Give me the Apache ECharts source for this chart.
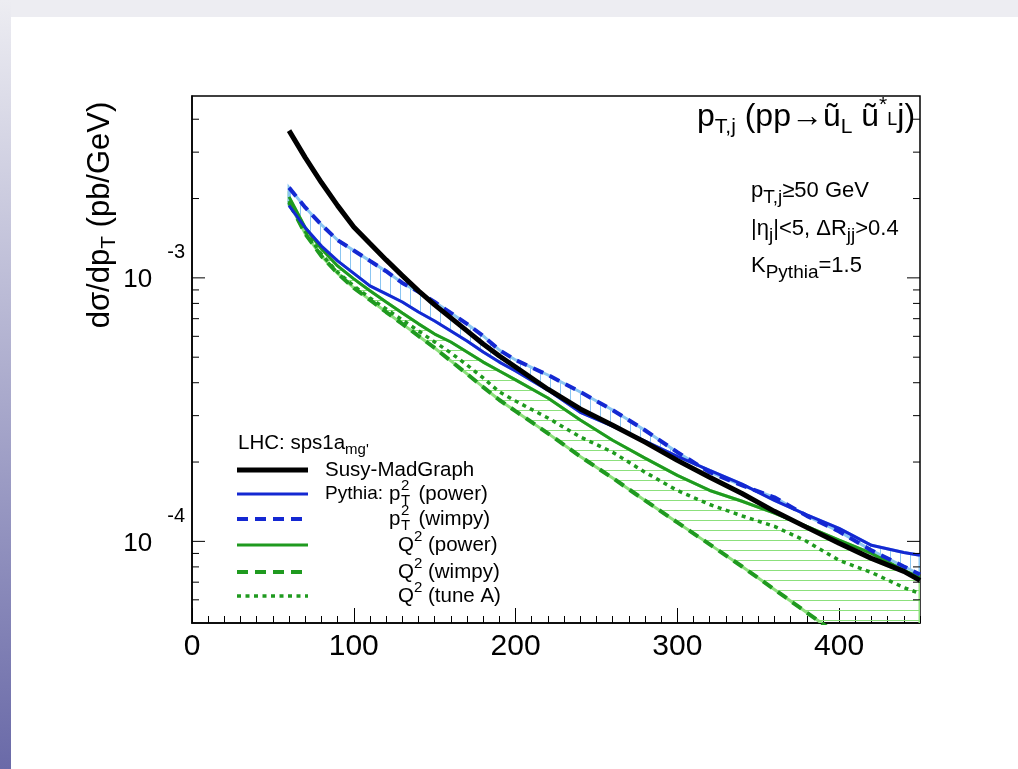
<!DOCTYPE html>
<html><head><meta charset="utf-8">
<script src="https://cdn.jsdelivr.net/npm/echarts@6/dist/echarts.min.js"></script>
<style>html,body{margin:0;padding:0;background:#fff}#c{width:1018px;height:769px}</style>
</head><body><div id="c"></div>
<script>
// ---- data (pT in GeV, dσ/dpT in pb/GeV) ----
const ptBins = [60,70,80,90,100,110,120,130,140,150,160,170,180,190,200,220,240,260,280,300,320,340,360,380,400,420,440,450];
const susyMadGraph   = [3.62e-3,2.86e-3,2.30e-3,1.88e-3,1.56e-3,1.35e-3,1.17e-3,1.02e-3,8.93e-4,7.90e-4,7.05e-4,6.29e-4,5.61e-4,5.05e-4,4.59e-4,3.78e-4,3.18e-4,2.76e-4,2.38e-4,2.03e-4,1.75e-4,1.52e-4,1.30e-4,1.13e-4,9.83e-5,8.62e-5,7.69e-5,7.11e-5];
const pythiaPt2Power = [1.88e-3,1.55e-3,1.32e-3,1.16e-3,1.04e-3,9.32e-4,8.69e-4,8.10e-4,7.42e-4,6.86e-4,6.29e-4,5.76e-4,5.23e-4,4.79e-4,4.43e-4,3.75e-4,3.09e-4,2.74e-4,2.40e-4,2.10e-4,1.86e-4,1.65e-4,1.43e-4,1.26e-4,1.12e-4,9.66e-5,9.08e-5,8.85e-5];
const pythiaPt2Wimpy = [2.20e-3,1.85e-3,1.59e-3,1.39e-3,1.27e-3,1.16e-3,1.06e-3,9.57e-4,8.85e-4,8.10e-4,7.36e-4,6.69e-4,6.02e-4,5.32e-4,4.88e-4,4.28e-4,3.69e-4,3.15e-4,2.64e-4,2.18e-4,1.83e-4,1.63e-4,1.47e-4,1.25e-4,1.09e-4,9.24e-5,8.03e-5,7.49e-5];
const pythiaQ2Power  = [2.03e-3,1.55e-3,1.29e-3,1.11e-3,9.91e-4,8.93e-4,8.10e-4,7.36e-4,6.69e-4,6.12e-4,5.71e-4,5.23e-4,4.79e-4,4.43e-4,4.10e-4,3.50e-4,2.89e-4,2.42e-4,2.07e-4,1.78e-4,1.56e-4,1.42e-4,1.28e-4,1.14e-4,1.01e-4,9.0e-5,7.76e-5,7.30e-5];
const pythiaQ2Wimpy  = [1.93e-3,1.47e-3,1.21e-3,1.04e-3,9.16e-4,8.25e-4,7.42e-4,6.69e-4,6.02e-4,5.42e-4,4.84e-4,4.32e-4,3.85e-4,3.44e-4,3.12e-4,2.57e-4,2.10e-4,1.74e-4,1.43e-4,1.18e-4,9.74e-5,8.03e-5,6.57e-5,5.37e-5,4.39e-5,3.6e-5,2.95e-5,2.65e-5];
const pythiaQ2TuneA  = [1.96e-3,1.50e-3,1.23e-3,1.05e-3,9.32e-4,8.39e-4,7.62e-4,6.92e-4,6.29e-4,5.71e-4,5.19e-4,4.67e-4,4.17e-4,3.69e-4,3.41e-4,2.94e-4,2.49e-4,2.18e-4,1.83e-4,1.56e-4,1.38e-4,1.25e-4,1.14e-4,1.00e-4,8.47e-5,7.62e-5,6.68e-5,6.34e-5];
const xTickLabels = [0,100,200,300,400];
const yMajorTicks = [1e-4,1e-3];
const yMinorTicks = [6e-5,7e-5,8e-5,9e-5,2e-4,3e-4,4e-4,5e-4,6e-4,7e-4,8e-4,9e-4,2e-3,3e-3,4e-3];

// ---- styling ----
const FF = '"Liberation Sans", Arial, Helvetica, sans-serif';
const BLUE = '#1428d2', LBLUE = '#8cc6f2', GREEN = '#1f9a1f', LGREEN = '#8ce07c';
const mctx = document.createElement('canvas').getContext('2d');
function tw(s, size) { mctx.font = size + 'px ' + FF; return mctx.measureText(s).width; }
function hatch(color, vertical, sp) {
  const c = document.createElement('canvas'); c.width = sp; c.height = sp;
  const g = c.getContext('2d'); g.strokeStyle = color; g.lineWidth = 1; g.beginPath();
  if (vertical) { g.moveTo(0.5, 0); g.lineTo(0.5, sp); } else { g.moveTo(0, 0.5); g.lineTo(sp, 0.5); }
  g.stroke(); return c;
}
const blueHatch = hatch(LBLUE, true, 10), greenHatch = hatch(LGREEN, false, 10);

function pairs(arr) { return ptBins.map((x, i) => [x, arr[i]]); }
function lineSeries(name, arr, color, width, dash, z) {
  return { name, type: 'line', data: pairs(arr), showSymbol: false, symbol: 'none', smooth: false,
    lineStyle: { color, width, type: dash || 'solid', cap: 'butt' }, z, silent: true, animation: false, clip: true };
}
function band(upper, lower, pattern, stroke, z) {
  return { type: 'custom', data: [[ptBins[0], upper[0]]], clip: true, z, silent: true, animation: false,
    renderItem: (params, api) => {
      const pts = ptBins.map((x, i) => api.coord([x, upper[i]]));
      for (let i = ptBins.length - 1; i >= 0; i--) pts.push(api.coord([ptBins[i], lower[i]]));
      return { type: 'polygon', shape: { points: pts }, style: { fill: { image: pattern, repeat: 'repeat' }, stroke, lineWidth: 3 } };
    } };
}
// y ticks on both frame sides (log positions through the axis scale)
const yTickSeries = {
  type: 'custom', data: yMajorTicks.map(v => [0, v, 13]).concat(yMinorTicks.map(v => [0, v, 7])),
  clip: false, z: 20, silent: true, animation: false,
  renderItem: (params, api) => {
    const v = api.value(1), len = api.value(2);
    const l = api.coord([0, v]), r = api.coord([450, v]);
    return { type: 'group', children: [
      { type: 'line', shape: { x1: l[0], y1: l[1], x2: l[0] + len, y2: l[1] }, style: { stroke: '#000', lineWidth: 1 } },
      { type: 'line', shape: { x1: r[0] - len, y1: r[1], x2: r[0], y2: r[1] }, style: { stroke: '#000', lineWidth: 1 } }
    ] };
  }
};

// text helpers
function T(x, y, text, rich, extra) {
  return Object.assign({ type: 'text', x, y, z: 100,
    style: { text, rich, fontFamily: FF, fill: '#000', align: 'left', verticalAlign: 'middle' } }, extra || {});
}
function R(size, pt, pb) {
  return { fontSize: size, fontFamily: FF, color: '#000', verticalAlign: 'middle', padding: [pt || 0, 0, pb || 0, 0] };
}
const titleRich = { t: R(32), s: R(21, 20, 0), u: R(21, 0, 24), l: R(18, 6, 0) };
const infoRich = { i: R(22), s: R(19, 13, 0) };
const legRich = { l: R(20.5), s: R(15, 13, 0), u: R(15, 0, 16) };

// legend geometry
const LX0 = 237, LX1 = 308, TX = 325, TXP = 389, TXQ = 398;
const rowsY = [470, 494, 519, 545, 572, 596];
const legLines = [
  { c: '#000', w: 5, d: null },
  { c: BLUE, w: 3, d: null },
  { c: BLUE, w: 4, d: [11, 7] },
  { c: GREEN, w: 3, d: null },
  { c: GREEN, w: 4, d: [11, 7] },
  { c: GREEN, w: 3.5, d: [4, 4.5] }
];
const yTitleRich = { m: R(31), s: R(21, 18, 0) };
const graphics = [
  { type: 'rect', z: -10, shape: { x: 0, y: 0, width: 1018, height: 17 }, style: { fill: '#ededf2' } },
  { type: 'rect', z: -10, shape: { x: 0, y: 0, width: 11, height: 769 },
    style: { fill: { type: 'linear', x: 0, y: 0, x2: 0, y2: 1, colorStops: [{ offset: 0, color: '#ededf2' }, { offset: 1, color: '#6a6aa8' }] } } },
  { type: 'text', x: 100, y: 215, z: 100, rotation: Math.PI / 2,
    style: { text: '{m|dσ/dp}{s|T}{m| (pb/GeV)}', rich: yTitleRich, fontFamily: FF, align: 'center', verticalAlign: 'middle' } },
  T(697, 117, '{t|p}{s|T,j}{t| (pp→ũ}{s|L}{t| ũ}{u|*}{l|L}{t|j)}', titleRich),
  T(751, 191, '{i|p}{s|T,j}{i|≥50 GeV}', infoRich),
  T(751, 229, '{i||η}{s|j}{i||<5, ΔR}{s|jj}{i|>0.4}', infoRich),
  T(751, 266, '{i|K}{s|Pythia}{i|=1.5}', infoRich),
  T(238, 443, '{l|LHC: sps1a}{s|mg\'}', legRich),
  T(TX, rowsY[0], '{l|Susy-MadGraph}', legRich),
  T(TX, rowsY[1], '{p|Pythia:}', { p: R(19) })
];
legLines.forEach((s, i) => graphics.push({ type: 'line', z: 100,
  shape: { x1: LX0, y1: rowsY[i], x2: LX1, y2: rowsY[i] },
  style: { stroke: s.c, lineWidth: s.w, lineDash: s.d, lineCap: 'butt' } }));
// p_T^2 entries (stacked sub/superscript)
const wp = tw('p', 20.5), w2 = tw('2', 15);
[[rowsY[1], ' (power)'], [rowsY[2], ' (wimpy)']].forEach(([y, lab]) => {
  graphics.push(T(TXP, y, '{l|p}', legRich));
  graphics.push(T(TXP + wp + 0.5, y - 8, '{a|2}', { a: R(15) }));
  graphics.push(T(TXP + wp + 0.5, y + 7, '{a|T}', { a: R(15) }));
  graphics.push(T(TXP + wp + w2 + 4, y, '{l|' + lab + '}', legRich));
});
graphics.push(T(TXQ, rowsY[3], '{l|Q}{u|2}{l| (power)}', legRich));
graphics.push(T(TXQ, rowsY[4], '{l|Q}{u|2}{l| (wimpy)}', legRich));
graphics.push(T(TXQ, rowsY[5], '{l|Q}{u|2}{l| (tune A)}', legRich));

const yLabelFmt = v => {
  const e = Math.log10(v), r = Math.round(e);
  if (Math.abs(e - r) > 1e-6) return '';
  return '{b|10}{e|' + r + '}';
};

const option = {
  animation: false,
  backgroundColor: '#fff',
  grid: { left: 192, right: 98, top: 96, bottom: 146, show: true, borderColor: '#000', borderWidth: 1.5, containLabel: false },
  xAxis: [
    { type: 'value', min: 0, max: 450, interval: 100, position: 'bottom',
      axisLine: { show: true, onZero: false, lineStyle: { color: '#000', width: 1.5 } },
      axisTick: { show: true, inside: true, length: 15, lineStyle: { color: '#000', width: 1 } },
      splitLine: { show: false },
      axisLabel: { show: true, margin: 9, fontSize: 30, fontFamily: FF, color: '#000', showMaxLabel: false,
        formatter: v => (xTickLabels.indexOf(v) >= 0 ? String(v) : '') } },
    { type: 'value', min: 0, max: 450, interval: 10, position: 'bottom',
      axisLine: { show: false, onZero: false }, axisTick: { show: true, inside: true, length: 7, lineStyle: { color: '#000', width: 1 } },
      splitLine: { show: false }, axisLabel: { show: false } }
  ],
  yAxis: [{
    type: 'log', logBase: 10, min: 4.9e-5, max: 4.9e-3, position: 'left',
    axisLine: { show: true, onZero: false, lineStyle: { color: '#000', width: 1.5 } },
    axisTick: { show: false }, minorTick: { show: false }, splitLine: { show: false },
    axisLabel: { show: true, margin: 7, formatter: yLabelFmt,
      rich: { b: { fontSize: 26, fontFamily: FF, color: '#000', padding: [4, 0, 0, 0], verticalAlign: 'middle' },
              e: { fontSize: 20, fontFamily: FF, color: '#000', padding: [0, 0, 50, 15], verticalAlign: 'middle' } } }
  }],
  graphic: graphics,
  series: [
    band(pythiaQ2Power, pythiaQ2Wimpy, greenHatch, LGREEN, 2),
    band(pythiaPt2Wimpy, pythiaPt2Power, blueHatch, LBLUE, 3),
    lineSeries('Q2 tune A', pythiaQ2TuneA, GREEN, 3.5, [4, 4.5], 5),
    lineSeries('Q2 wimpy', pythiaQ2Wimpy, GREEN, 4, [11, 7], 5),
    lineSeries('Q2 power', pythiaQ2Power, GREEN, 3, null, 6),
    lineSeries('pT2 wimpy', pythiaPt2Wimpy, BLUE, 4, [11, 7], 7),
    lineSeries('pT2 power', pythiaPt2Power, BLUE, 3, null, 7),
    lineSeries('Susy-MadGraph', susyMadGraph, '#000', 5, null, 8),
    yTickSeries
  ]
};
const chart = echarts.init(document.getElementById('c'), null, { renderer: 'canvas' });
chart.setOption(option);
</script>
</body></html>
